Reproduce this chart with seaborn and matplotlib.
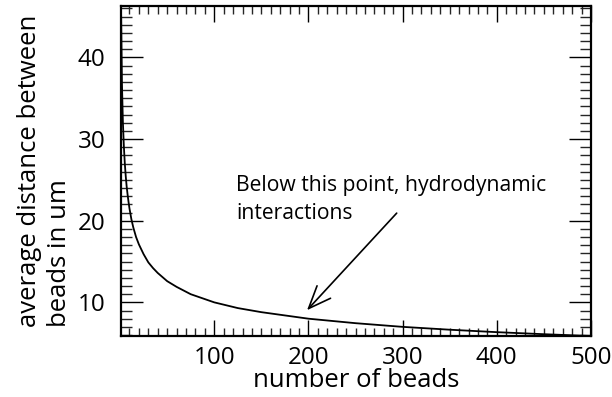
import matplotlib
matplotlib.use("Agg")
import matplotlib.pyplot as plt
from matplotlib.ticker import MultipleLocator, FixedLocator
import seaborn as sns
import pandas as pd

# values
n_beads = [1, 2, 3, 4, 5, 6, 7, 8, 9, 10, 12, 14, 17, 20, 25, 30, 35, 40, 50,
           60, 75, 100, 125, 150, 175, 200, 250, 300, 350, 400, 450, 500]
avg_dist = [46.3, 36.8, 32.1, 29.2, 27.1, 25.5, 24.2, 23.2, 22.3, 21.5, 20.2,
            19.2, 18.0, 17.1, 15.9, 14.9, 14.2, 13.6, 12.6, 11.9, 11.0, 10.0,
            9.3, 8.8, 8.4, 8.0, 7.45, 7.0, 6.65, 6.35, 6.1, 5.88]
x_ticks = [100, 200, 300, 400, 500]
y_ticks = [10, 20, 30, 40]

df = pd.DataFrame({"n": n_beads, "d": avg_dist})

sns.set_theme(style="ticks")
plt.rcParams["font.family"] = ["Open Sans", "DejaVu Sans"]
plt.rcParams["text.color"] = "black"

fig = plt.figure(figsize=(6.12, 3.97), dpi=100)
ax = fig.add_axes([121 / 612, 1 - 336 / 397, 470 / 612, 330 / 397])

sns.lineplot(data=df, x="n", y="d", ax=ax, color="black", linewidth=1.3)

ax.set_xlim(min(n_beads), max(n_beads))
ax.set_ylim(min(avg_dist), max(avg_dist))

ax.xaxis.set_major_locator(FixedLocator(x_ticks))
ax.yaxis.set_major_locator(FixedLocator(y_ticks))
ax.xaxis.set_minor_locator(MultipleLocator(10))
ax.yaxis.set_minor_locator(MultipleLocator(1))

for s in ax.spines.values():
    s.set_linewidth(1.6)
    s.set_color("black")

ax.tick_params(axis="x", which="major", direction="in", length=11.5, width=1.0,
               top=True, bottom=True, labelsize=17.4, pad=7, colors="black")
ax.tick_params(axis="x", which="minor", direction="in", length=5.8, width=1.0,
               top=True, bottom=True)
ax.tick_params(axis="y", which="major", direction="in", length=16, width=1.0,
               left=True, right=True, labelsize=17.4, pad=11, colors="black")
ax.tick_params(axis="y", which="minor", direction="in", length=8, width=1.0,
               left=True, right=True)

ax.set_xlabel("number of beads", fontsize=18.5, labelpad=-1, color="black")
ax.set_ylabel("average distance between\nbeads in um", fontsize=18.5,
              multialignment="left", labelpad=4, color="black",
              linespacing=1.3)

ax.text(123, 25.6, "Below this point, hydrodynamic\ninteractions",
        fontsize=15.2, ha="left", va="top", linespacing=1.45, color="black")
ax.annotate("", xy=(198.5, 9.04), xytext=(293.7, 20.93),
            arrowprops=dict(arrowstyle="->,head_length=1.35,head_width=0.55",
                            color="black", lw=1.2, shrinkA=0, shrinkB=0))

fig.savefig("out.png", dpi=100)
